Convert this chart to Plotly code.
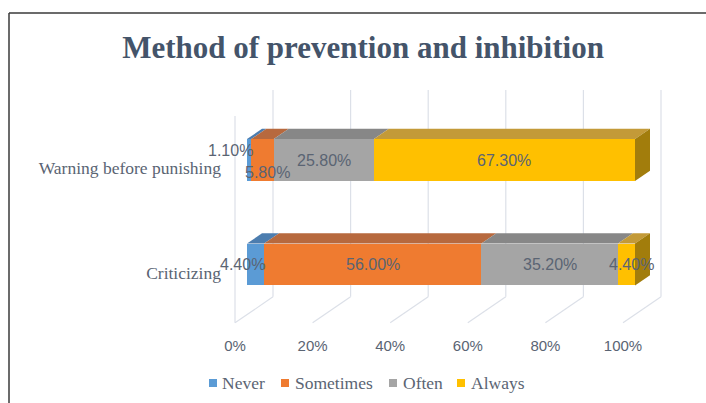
import plotly.graph_objects as go

# ---------------- data ----------------
categories = ["Criticizing", "Warning before punishing"]
series_names = ["Never", "Sometimes", "Often", "Always"]
never = [4.4, 1.1]
sometimes = [56.0, 5.8]
often = [35.2, 25.8]
always = [4.4, 67.3]
tick_values = [0, 20, 40, 60, 80, 100]
tick_labels = ["0%", "20%", "40%", "60%", "80%", "100%"]
title_text = "Method of prevention and inhibition"

series_values = [never, sometimes, often, always]

# ---------------- styles ----------------
front_colors = ["#5B9BD5", "#EF7B30", "#A5A5A5", "#FFC000"]
top_colors = ["#4C7DAF", "#B7693E", "#878787", "#C39A38"]
side_color = "#A27D0C"
grid_color = "#DCE0E8"
text_color = "#5A6473"
title_color = "#44546A"
serif = "Liberation Serif"
sans = "Liberation Sans"

# per-label pixel nudges (Excel moved the crowded labels), [row][series]
label_nudge = [
    [(-13, 0), (0, 0), (0, 0), (5, 0)],
    [(-19, 10), (5, -12), (0, 0), (0, 0)],
]

# ---------------- geometry (pixels) ----------------
W, H = 706, 403
L, R, T, B = 232, 34, 80, 68
plot_w = W - L - R
plot_h = H - T - B
PX_PER_PCT = 3.88          # horizontal scale
BAR_ZERO_PX = 247          # pixel of 0% on the bars' front face
PX_PER_CAT = 104.5         # vertical distance between categories
CAT0_PX = 264.5            # pixel centre of first category front face

x_range = [(L - BAR_ZERO_PX) / PX_PER_PCT, (L + plot_w - BAR_ZERO_PX) / PX_PER_PCT]
y_range = [(CAT0_PX - (T + plot_h)) / PX_PER_CAT, (CAT0_PX - T) / PX_PER_CAT]

# oblique depth of the 3-D box
DX = 38 / PX_PER_PCT
DY = 26 / PX_PER_CAT
Z_FRONT = 12 / 38
Z_BACK = 27 / 38
FLOOR = -0.48
WALL_TOP = 1.50
BAR_W = 0.40


def proj(v, y, z):
    return v + (z - Z_FRONT) * DX, y + (z - Z_FRONT) * DY


def path(points):
    return "M " + " L ".join(f"{px:.4f},{py:.4f}" for px, py in points) + " Z"


def paper(px, py):
    return (px - L) / plot_w, 1 - (py - T) / plot_h


fig = go.Figure()
ypos = list(range(len(categories)))
for name, vals, col in zip(series_names, series_values, front_colors):
    fig.add_trace(go.Bar(
        y=ypos, x=vals, name=name, orientation="h", width=BAR_W,
        marker=dict(color=col, line=dict(width=0)), showlegend=False,
    ))

shapes = []
# back wall + floor gridlines
for t in tick_values:
    x0, y0 = proj(t, FLOOR, 0)
    x1, y1 = proj(t, FLOOR, 1)
    x2, y2 = proj(t, WALL_TOP, 1)
    shapes.append(dict(type="line", xref="x", yref="y", x0=x0, y0=y0, x1=x1, y1=y1,
                       line=dict(color=grid_color, width=1.2), layer="below"))
    shapes.append(dict(type="line", xref="x", yref="y", x0=x1, y0=y1, x1=x2, y1=y2,
                       line=dict(color=grid_color, width=1.2), layer="below"))
# left wall front edge
x0, y0 = proj(tick_values[0], FLOOR, 0)
x1, y1 = proj(tick_values[0], WALL_TOP, 0)
shapes.append(dict(type="line", xref="x", yref="y", x0=x0, y0=y0, x1=x1, y1=y1,
                   line=dict(color=grid_color, width=1.2), layer="below"))

# bar top faces and right side face
annotations = []
for k in ypos:
    start = 0.0
    for s, vals in enumerate(series_values):
        a, b = start, start + vals[k]
        top = k + BAR_W / 2
        pts = [proj(a, top, Z_FRONT), proj(b, top, Z_FRONT), proj(b, top, Z_BACK), proj(a, top, Z_BACK)]
        shapes.append(dict(type="path", xref="x", yref="y", path=path(pts),
                           fillcolor=top_colors[s], line=dict(width=0), layer="above"))
        nx, ny = label_nudge[k][s]
        annotations.append(dict(x=(a + b) / 2, y=k, xref="x", yref="y", text=f"{vals[k]:.2f}%",
                                showarrow=False, xshift=nx, yshift=ny,
                                font=dict(family=sans, size=16, color=text_color)))
        start = b
    bot = k - BAR_W / 2
    top = k + BAR_W / 2
    pts = [proj(start, bot, Z_FRONT), proj(start, top, Z_FRONT), proj(start, top, Z_BACK), proj(start, bot, Z_BACK)]
    shapes.append(dict(type="path", xref="x", yref="y", path=path(pts),
                       fillcolor=side_color, line=dict(width=0), layer="above"))

# chart frame (left and top edges visible)
fx0, fy0 = paper(9, 13)
fx1, fy1 = paper(W + 5, H + 5)
shapes.append(dict(type="line", xref="paper", yref="paper", x0=fx0, y0=fy0, x1=fx1, y1=fy0,
                   line=dict(color="#3A3A3A", width=1.5), layer="above"))
shapes.append(dict(type="line", xref="paper", yref="paper", x0=fx0, y0=fy0, x1=fx0, y1=fy1,
                   line=dict(color="#3A3A3A", width=1.5), layer="above"))

# legend built as annotations (Excel-style compact legend)
legend_x = [209, 281, 389, 457]
legend_text_x = [220, 293, 401, 469]
for name, col, lx, tx in zip(series_names, front_colors, legend_x, legend_text_x):
    sx0, sy0 = paper(lx, 379)
    sx1, sy1 = paper(lx + 8, 387)
    shapes.append(dict(type="rect", xref="paper", yref="paper", x0=sx0, y0=sy0, x1=sx1, y1=sy1,
                       fillcolor=col, line=dict(width=0), layer="above"))
    px, py = paper(tx, 383)
    annotations.append(dict(x=px, y=py, xref="paper", yref="paper", xanchor="left", yanchor="middle",
                            showarrow=False, text=name,
                            font=dict(family=serif, size=17.5, color=text_color)))

fig.update_layout(
    width=W, height=H,
    margin=dict(l=L, r=R, t=T, b=B),
    paper_bgcolor="white", plot_bgcolor="rgba(0,0,0,0)",
    barmode="stack", bargap=0,
    title=dict(text=f"<b>{title_text}</b>", x=363 / W, y=1 - 47 / H,
               xanchor="center", yanchor="middle",
               font=dict(family=serif, size=31, color=title_color)),
    xaxis=dict(range=x_range, showgrid=False, zeroline=False, showline=False,
               tickmode="array", tickvals=[proj(t, 0, 0)[0] for t in tick_values],
               ticktext=tick_labels, ticks="", tickfont=dict(family=sans, size=15, color=text_color)),
    yaxis=dict(range=y_range, showgrid=False, zeroline=False, showline=False,
               tickmode="array", tickvals=[proj(0, k, 0)[1] for k in ypos],
               ticktext=categories, ticks="", ticklabelstandoff=10,
               tickfont=dict(family=serif, size=17.5, color=text_color)),
    shapes=shapes,
    annotations=annotations,
    showlegend=False,
)

fig.write_html("out.html")
